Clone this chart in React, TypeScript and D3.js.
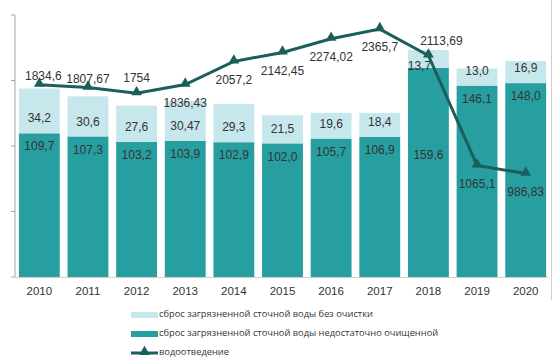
import React, { useRef, useEffect } from 'react';
import * as d3 from 'd3';

const years = ['2010', '2011', '2012', '2013', '2014', '2015', '2016', '2017', '2018', '2019', '2020'];
const untreated = [34.2, 30.6, 27.6, 30.47, 29.3, 21.5, 19.6, 18.4, 13.7, 13.0, 16.9];
const poorlyTreated = [109.7, 107.3, 103.2, 103.9, 102.9, 102.0, 105.7, 106.9, 159.6, 146.1, 148.0];
const drainage = [1834.6, 1807.67, 1754, 1836.43, 2057.2, 2142.45, 2274.02, 2365.7, 2113.69, 1065.1, 986.83];
const untreatedLabels = ['34,2', '30,6', '27,6', '30,47', '29,3', '21,5', '19,6', '18,4', '13,7', '13,0', '16,9'];
const poorlyLabels = ['109,7', '107,3', '103,2', '103,9', '102,9', '102,0', '105,7', '106,9', '159,6', '146,1', '148,0'];
const drainageLabels = ['1834,6', '1807,67', '1754', '1836,43', '2057,2', '2142,45', '2274,02', '2365,7', '2113,69', '1065,1', '986,83'];
const legendNames = [
  'сброс загрязненной сточной воды без очистки',
  'сброс загрязненной сточной воды недостаточно очищенной',
  'водоотведение',
];

const W = 552;
const H = 359;
const LIGHT = '#c6e7eb';
const DARK = '#279fa1';
const LINE = '#1a5f5b';
const TEXT = '#333';
const FONT = '"Liberation Sans", Arial, sans-serif';

const App: React.FC = () => {
  const svgRef = useRef<SVGSVGElement>(null);

  useEffect(() => {
    if (!svgRef.current) return;
    const svg = d3.select(svgRef.current);
    svg.selectAll('*').remove();

    const left = 15;
    const right = 550;
    const top = 15;
    const bottom = 277;

    const x = d3.scaleBand().domain(years).range([left, right]).paddingInner(0.16).paddingOuter(0.08);
    const y = d3.scaleLinear().domain([0, 200]).range([bottom, top]);
    const y2 = d3.scaleLinear().domain([0, 2500]).range([bottom, top]);

    // axis
    svg.append('line').attr('x1', left).attr('x2', left).attr('y1', top).attr('y2', bottom)
      .attr('stroke', '#a6a6a6').attr('stroke-width', 1);
    y.ticks(5).forEach(t => {
      svg.append('line').attr('x1', left - 4).attr('x2', left).attr('y1', y(t)).attr('y2', y(t))
        .attr('stroke', '#a6a6a6');
    });
    svg.append('line').attr('x1', 551.5).attr('x2', 551.5).attr('y1', 0).attr('y2', 300)
      .attr('stroke', '#d0d0d0');

    // bars
    years.forEach((yr, i) => {
      const bx = x(yr)!;
      const bw = x.bandwidth();
      const darkTop = y(poorlyTreated[i]);
      const lightTop = y(poorlyTreated[i] + untreated[i]);
      svg.append('rect').attr('x', bx).attr('y', darkTop).attr('width', bw).attr('height', bottom - darkTop)
        .attr('fill', DARK);
      svg.append('rect').attr('x', bx).attr('y', lightTop).attr('width', bw).attr('height', darkTop - lightTop)
        .attr('fill', LIGHT);
    });

    svg.append('line').attr('x1', left).attr('x2', right - 2).attr('y1', bottom + 0.5).attr('y2', bottom + 0.5)
      .attr('stroke', '#d0d0d0');

    // category labels
    years.forEach(yr => {
      svg.append('text').attr('x', x(yr)! + x.bandwidth() / 2).attr('y', 292)
        .attr('text-anchor', 'middle').attr('dominant-baseline', 'middle')
        .attr('font-family', FONT).attr('font-size', 11.5).attr('fill', TEXT).text(yr);
    });

    // bar labels
    years.forEach((yr, i) => {
      const cx = x(yr)! + x.bandwidth() / 2;
      const darkTop = y(poorlyTreated[i]);
      const shifted = yr === '2018';
      svg.append('text').attr('x', shifted ? cx - 9 : cx).attr('y', shifted ? darkTop - 1 : darkTop - 14)
        .attr('text-anchor', 'middle').attr('dominant-baseline', 'middle')
        .attr('font-family', FONT).attr('font-size', 12).attr('fill', TEXT).text(untreatedLabels[i]);
      svg.append('text').attr('x', cx).attr('y', shifted ? 156 : darkTop + 14)
        .attr('text-anchor', 'middle').attr('dominant-baseline', 'middle')
        .attr('font-family', FONT).attr('font-size', 12).attr('fill', TEXT).text(poorlyLabels[i]);
    });

    // line
    const pts: [number, number][] = years.map((yr, i) => [x(yr)! + x.bandwidth() / 2, y2(drainage[i])]);
    svg.append('path').attr('d', d3.line()(pts)!).attr('fill', 'none')
      .attr('stroke', LINE).attr('stroke-width', 3);
    const tri = d3.symbol().type(d3.symbolTriangle).size(50);
    pts.forEach(p => {
      svg.append('path').attr('d', tri()!).attr('transform', `translate(${p[0]},${p[1] - 1})`).attr('fill', LINE);
    });

    const above = ['2010', '2011', '2012', '2018'];
    years.forEach((yr, i) => {
      const [px, py] = pts[i];
      let ly = above.includes(yr) ? py - 14 : py + 19;
      if (yr === '2010' || yr === '2011') ly = py - 7.5;
      svg.append('text').attr('x', yr === '2018' ? px + 13 : yr === '2010' ? px + 4 : px).attr('y', ly)
        .attr('text-anchor', 'middle').attr('dominant-baseline', 'middle')
        .attr('font-family', FONT).attr('font-size', 12).attr('fill', TEXT).text(drainageLabels[i]);
    });

    // legend
    const lg = svg.append('g').attr('font-family', '"Open Sans", "Noto Sans", sans-serif').attr('font-size', 9.3);
    const rows = [315, 334, 353];
    lg.append('rect').attr('x', 131).attr('y', rows[0] - 3).attr('width', 27).attr('height', 6).attr('fill', LIGHT);
    lg.append('rect').attr('x', 131).attr('y', rows[1] - 3).attr('width', 27).attr('height', 6).attr('fill', DARK);
    lg.append('line').attr('x1', 131).attr('x2', 158).attr('y1', rows[2]).attr('y2', rows[2])
      .attr('stroke', LINE).attr('stroke-width', 3);
    lg.append('path').attr('d', tri()!).attr('transform', `translate(144.5,${rows[2] - 1})`).attr('fill', LINE);
    legendNames.forEach((name, i) => {
      lg.append('text').attr('x', 159).attr('y', rows[i]).attr('dominant-baseline', 'middle')
        .attr('fill', TEXT).text(name);
    });
  }, []);

  return (
    <svg ref={svgRef} width={W} height={H}
      style={{ position: 'absolute', left: 0, top: 0, background: '#fff' }} />
  );
};

export default App;
